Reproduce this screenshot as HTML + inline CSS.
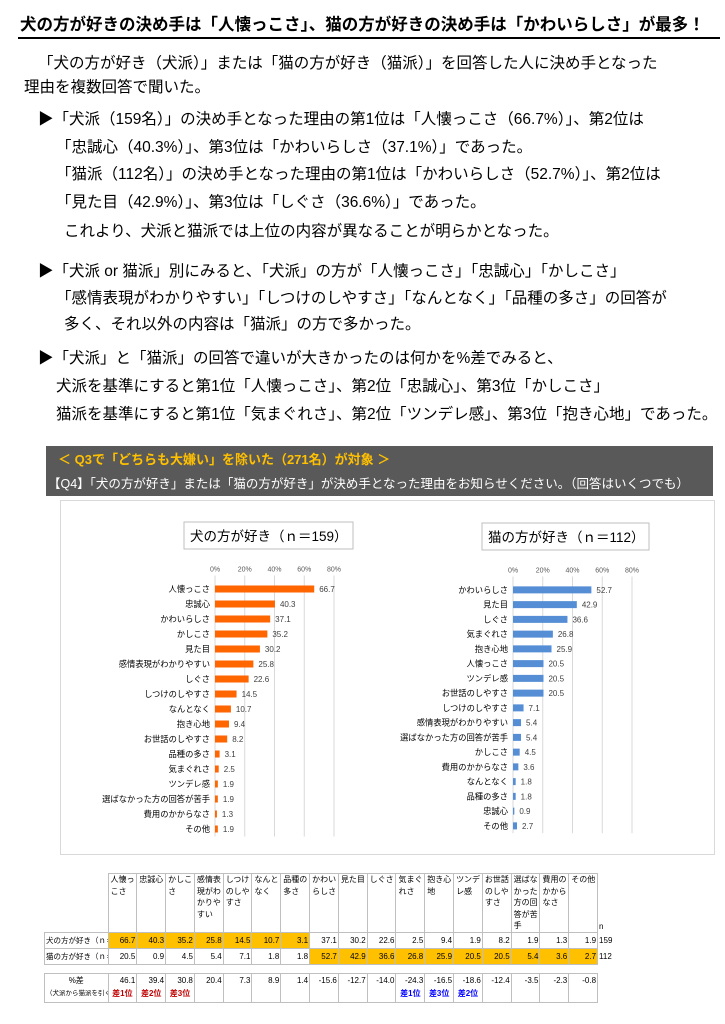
<!DOCTYPE html>
<html><head><meta charset="utf-8">
<style>
body{margin:0;background:#fff;width:725px;height:1024px;position:relative;overflow:hidden;font-family:"Liberation Sans","Noto Sans CJK JP",sans-serif;color:#000}
.a{position:absolute;white-space:nowrap}
.t{font-size:15.5px}
#title{left:20px;top:11px;font-size:16.5px;font-weight:bold}
#rule{left:18px;top:37px;width:702px;height:2px;background:#000}
#banner{left:46px;top:446px;width:667px;height:50px;background:#595959}
#frame{left:60px;top:500px;width:655px;height:355px;border:1px solid #d9d9d9;box-sizing:border-box}
table{border-collapse:collapse;font-size:8px;position:absolute;table-layout:fixed}
td{border:1px solid #bfbfbf;padding:0 1px;text-align:right;height:15px;line-height:15px;overflow:hidden}
.h td{vertical-align:top;text-align:left;line-height:11.5px;height:51px;white-space:normal;word-break:break-all;font-size:8px}
.o{background:#ffc000}
.lab{text-align:left;white-space:nowrap;font-size:7.5px}
</style></head><body>
<div class="a" id="title">犬の方が好きの決め手は「人懐っこさ」、猫の方が好きの決め手は「かわいらしさ」が最多！</div>
<div class="a" id="rule"></div>
<div class="a t" style="left:38px;top:51px">「犬の方が好き（犬派）」または「猫の方が好き（猫派）」を回答した人に決め手となった</div>
<div class="a t" style="left:24px;top:75px">理由を複数回答で聞いた。</div>
<div class="a t" style="left:38px;top:107px">▶「犬派（159名）」の決め手となった理由の第1位は「人懐っこさ（66.7%）」、第2位は</div>
<div class="a t" style="left:56px;top:135px">「忠誠心（40.3%）」、第3位は「かわいらしさ（37.1%）」であった。</div>
<div class="a t" style="left:56px;top:162px">「猫派（112名）」の決め手となった理由の第1位は「かわいらしさ（52.7%）」、第2位は</div>
<div class="a t" style="left:56px;top:190px">「見た目（42.9%）」、第3位は「しぐさ（36.6%）」であった。</div>
<div class="a t" style="left:64px;top:219px">これより、犬派と猫派では上位の内容が異なることが明らかとなった。</div>
<div class="a t" style="left:38px;top:259px">▶「犬派 or 猫派」別にみると、「犬派」の方が「人懐っこさ」「忠誠心」「かしこさ」</div>
<div class="a t" style="left:56px;top:286px">「感情表現がわかりやすい」「しつけのしやすさ」「なんとなく」「品種の多さ」の回答が</div>
<div class="a t" style="left:64px;top:312px">多く、それ以外の内容は「猫派」の方で多かった。</div>
<div class="a t" style="left:38px;top:346px">▶「犬派」と「猫派」の回答で違いが大きかったのは何かを%差でみると、</div>
<div class="a t" style="left:56px;top:374px">犬派を基準にすると第1位「人懐っこさ」、第2位「忠誠心」、第3位「かしこさ」</div>
<div class="a t" style="left:56px;top:402px">猫派を基準にすると第1位「気まぐれさ」、第2位「ツンデレ感」、第3位「抱き心地」であった。</div>

<div class="a" id="banner">
<div class="a" style="left:12px;top:3px;color:#ffc000;font-size:13px;font-weight:bold">＜ Q3で「どちらも大嫌い」を除いた（271名）が対象 ＞</div>
<div class="a" style="left:2px;top:27px;color:#fff;font-size:12.5px">【Q4】「犬の方が好き」または「猫の方が好き」が決め手となった理由をお知らせください。（回答はいくつでも）</div>
</div>
<div class="a" id="frame"></div>

<svg class="a" style="left:0;top:0" width="725" height="860" id="charts"></svg>

<table id="tbl" style="left:44px;top:873px;width:530px"></table>

<script>
const dogCats=["人懐っこさ","忠誠心","かわいらしさ","かしこさ","見た目","感情表現がわかりやすい","しぐさ","しつけのしやすさ","なんとなく","抱き心地","お世話のしやすさ","品種の多さ","気まぐれさ","ツンデレ感","選ばなかった方の回答が苦手","費用のかからなさ","その他"];
const dogVals=[66.7,40.3,37.1,35.2,30.2,25.8,22.6,14.5,10.7,9.4,8.2,3.1,2.5,1.9,1.9,1.3,1.9];
const catCats=["かわいらしさ","見た目","しぐさ","気まぐれさ","抱き心地","人懐っこさ","ツンデレ感","お世話のしやすさ","しつけのしやすさ","感情表現がわかりやすい","選ばなかった方の回答が苦手","かしこさ","費用のかからなさ","なんとなく","品種の多さ","忠誠心","その他"];
const catVals=[52.7,42.9,36.6,26.8,25.9,20.5,20.5,20.5,7.1,5.4,5.4,4.5,3.6,1.8,1.8,0.9,2.7];
const tickLabels=["0%","20%","40%","60%","80%"];
const tickVals=[0,20,40,60,80];
const tblCats=["人懐っこさ","忠誠心","かしこさ","感情表現がわかりやすい","しつけのしやすさ","なんとなく","品種の多さ","かわいらしさ","見た目","しぐさ","気まぐれさ","抱き心地","ツンデレ感","お世話のしやすさ","選ばなかった方の回答が苦手","費用のかからなさ","その他"];
const tblDog=[66.7,40.3,35.2,25.8,14.5,10.7,3.1,37.1,30.2,22.6,2.5,9.4,1.9,8.2,1.9,1.3,1.9];
const tblCat=[20.5,0.9,4.5,5.4,7.1,1.8,1.8,52.7,42.9,36.6,26.8,25.9,20.5,20.5,5.4,3.6,2.7];
const tblDiff=["46.1","39.4","30.8","20.4","7.3","8.9","1.4","-15.6","-12.7","-14.0","-24.3","-16.5","-18.6","-12.4","-3.5","-2.3","-0.8"];
const rankLabels=["差1位","差2位","差3位","","","","","","","","差1位","差3位","差2位","","","",""];

const NS="http://www.w3.org/2000/svg";
const svg=document.getElementById('charts');
function mk(tag,at,txt){const e=document.createElementNS(NS,tag);for(const k in at)e.setAttribute(k,at[k]);if(txt!==undefined)e.textContent=txt;svg.appendChild(e);return e;}
function chart(id,title,box,x0,top,step,cats,vals,color){
  const W=119,max=80;const xs=v=>x0+v/max*W;
  const b=mk('rect',{x:box[0],y:box[1],width:box[2],height:box[3],fill:'#fff',stroke:'#bfbfbf'});
  
  const tt=mk('text',{x:box[0]+6,y:box[1]+19,'font-size':13.5,'font-family':'Liberation Sans, Noto Sans CJK JP, sans-serif'},title);
  
  const bottom=top+step*cats.length;
  tickVals.forEach((t,i)=>{
    const g=mk('line',{x1:xs(t),x2:xs(t),y1:top-6,y2:bottom,stroke:'#d9d9d9','stroke-width':1});
    
    const l=mk('text',{x:xs(t),y:top-10,'font-size':7,'text-anchor':'middle',fill:'#595959'},tickLabels[i]);
    
  });
  cats.forEach((c,i)=>{
    const cy=top+step*i+step/2;
    const r=mk('rect',{x:x0,y:cy-3.5,width:Math.max(0.6,xs(vals[i])-x0),height:7,fill:color});
    
    const l=mk('text',{x:x0-5,y:cy+3,'font-size':8.3,'text-anchor':'end','font-family':'Liberation Sans, Noto Sans CJK JP, sans-serif'},c);
    
    const v=mk('text',{x:xs(vals[i])+5,y:cy+3,'font-size':8,fill:'#404040'},vals[i].toFixed(1));
    
  });
}
chart('dog-chart','犬の方が好き（ｎ＝159）',[184,522,169,27],215,581.5,15,dogCats,dogVals,'#ff6600');
chart('cat-chart','猫の方が好き（ｎ＝112）',[482,523,167,27],513,582.5,14.75,catCats,catVals,'#558ed5');

const tbl=document.getElementById('tbl');
function row(cls){const tr=document.createElement('tr');if(cls)tr.className=cls;tbl.appendChild(tr);return tr;}
function cell(tr,txt,style,name){const td=document.createElement('td');td.textContent=txt;if(style)td.setAttribute('style',style);


tr.appendChild(td);return td;}
let h=row('h');
cell(h,'','width:63px;border:none;padding:0','header-blank');
tblCats.forEach(c=>cell(h,c,'width:25.8px;padding:0 0 0 2px','header-cell'));
cell(h,'n','border:none;vertical-align:bottom;width:18px','n-header');
let r1=row();
const lab1=cell(r1,'犬の方が好き（ｎ＝159）','','row-label');lab1.className='lab';
tblDog.forEach((v,i)=>{const td=cell(r1,v.toFixed(1),'','dog-value');if(i<7)td.className='o';});
cell(r1,'159','border:none;text-align:left','dog-n');
let r2=row();
const lab2=cell(r2,'猫の方が好き（ｎ＝112）','','row-label');lab2.className='lab';
tblCat.forEach((v,i)=>{const td=cell(r2,v.toFixed(1),'','cat-value');if(i>=7)td.className='o';});
cell(r2,'112','border:none;text-align:left','cat-n');
let sp=row();const s=cell(sp,'','border:none;height:8px','spacer');s.colSpan=19;
let r3=row();
const d=cell(r3,'','text-align:center;line-height:13px;height:28px;vertical-align:top','diff-label');
d.innerHTML='<div style="font-size:8px">%差</div><div style="font-size:6.5px;white-space:nowrap">（犬派から猫派を引く）</div>';
tblDiff.forEach((v,i)=>{const td=cell(r3,'','line-height:13px;height:28px;vertical-align:top','diff-value');
 const col=i<7?'#c00000':'#0000ff';
 td.innerHTML='<div>'+v+'</div><div style="text-align:center;font-weight:bold;color:'+col+'">'+rankLabels[i]+'</div>';});
cell(r3,'','border:none','diff-blank');
</script>
</body></html>
